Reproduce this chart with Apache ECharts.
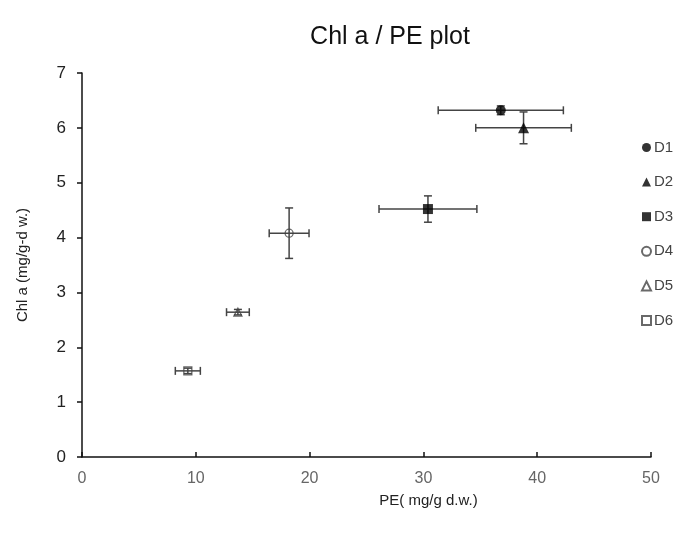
<!DOCTYPE html>
<html><head><meta charset="utf-8">
<script src="https://cdn.jsdelivr.net/npm/echarts@6/dist/echarts.min.js"></script>
<style>html,body{margin:0;padding:0;background:#fff}#c{width:680px;height:545px}</style>
</head><body><div id="c"></div>
<script>
var names = ['D1','D2','D3','D4','D5','D6'];
var peMean = [36.8, 38.8, 30.4, 18.2, 13.7, 9.3];
var peErr = [5.5, 4.2, 4.3, 1.75, 1.0, 1.1];
var chlMean = [6.32, 6.0, 4.52, 4.08, 2.64, 1.57];
var chlErr = [0.08, 0.29, 0.24, 0.46, 0.05, 0.05];
var symbols = ['circle','triangle','rect','circle','triangle','rect'];
var hollow = [false,false,false,true,true,true];
var xTicks = [0,10,20,30,40,50];
var yTicks = [0,1,2,3,4,5,6,7];

var chart = echarts.init(document.getElementById('c'));
var series = [];
var errData = names.map(function(n,i){return [peMean[i], chlMean[i], peErr[i], chlErr[i]];});
series.push({
  type:'custom', silent:true, z:1,
  data: errData,
  renderItem: function(params, api){
    var x=api.value(0), y=api.value(1), ex=api.value(2), ey=api.value(3);
    var l=api.coord([x-ex,y]), r=api.coord([x+ex,y]);
    var t=api.coord([x,y+ey]), b=api.coord([x,y-ey]);
    var c=4;
    var st={stroke:'#444',lineWidth:1.5};
    function ln(x1,y1,x2,y2){return {type:'line',shape:{x1:x1,y1:y1,x2:x2,y2:y2},style:st};}
    return {type:'group',children:[
      ln(l[0],l[1],r[0],r[1]),
      ln(l[0],l[1]-c,l[0],l[1]+c),
      ln(r[0],r[1]-c,r[0],r[1]+c),
      ln(t[0],t[1],b[0],b[1]),
      ln(t[0]-c,t[1],t[0]+c,t[1]),
      ln(b[0]-c,b[1],b[0]+c,b[1])
    ]};
  }
});
names.forEach(function(n,i){
  var e = hollow[i];
  series.push({
    name:n, type:'scatter', z:3,
    symbol:symbols[i], symbolSize: e ? 8 : (i===1 ? 11 : 10),
    itemStyle:{color: e ? 'rgba(255,255,255,0)' : '#000', borderColor: e ? '#444':'#000', borderWidth: e?1.3:0},
    data:[[peMean[i], chlMean[i]]]
  });
});

chart.setOption({
  animation:false,
  title:{text:'Chl a / PE plot', left:385, top:20, textAlign:'center',
    textStyle:{fontFamily:'Liberation Sans, Arial', fontSize:25, fontWeight:'normal', color:'#111'}},
  legend:{orient:'vertical', left:636, top:135, itemGap:19.6, itemWidth:9, itemHeight:9,
    data:names, textStyle:{fontFamily:'Liberation Sans, Arial', fontSize:15, color:'#444', padding:[0,0,0,-2]}},
  grid:{left:82, right:29, top:73, bottom:88},
  xAxis:{type:'value', min:0, max:50, interval:10,
    name:'PE( mg/g d.w.)', nameLocation:'middle', nameGap:36,
    nameTextStyle:{fontFamily:'Liberation Sans, Arial', fontSize:15, color:'#222', padding:[0,0,0,124]},
    axisLine:{lineStyle:{color:'#111', width:1.5}},
    axisTick:{inside:true, length:5, lineStyle:{color:'#111', width:1.5}},
    axisLabel:{fontFamily:'Liberation Sans, Arial', fontSize:16, color:'#666', margin:14},
    splitLine:{show:false}},
  yAxis:{type:'value', min:0, max:7, interval:1,
    name:'Chl a (mg/g-d w.)', nameLocation:'middle', nameGap:52,
    nameTextStyle:{fontFamily:'Liberation Sans, Arial', fontSize:15, color:'#222'},
    axisLine:{show:true, lineStyle:{color:'#111', width:1.5}},
    axisTick:{show:true, length:5, lineStyle:{color:'#111', width:1.5}},
    axisLabel:{fontFamily:'Liberation Sans, Arial', fontSize:17, color:'#222', margin:16},
    splitLine:{show:false}},
  series:series
});
</script></body></html>
